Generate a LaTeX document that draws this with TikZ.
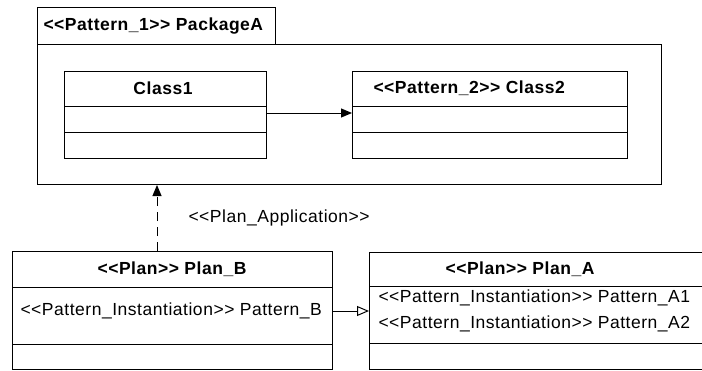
\documentclass[tikz,border=0pt]{standalone}
\usepackage{fontspec}
\setmainfont{Liberation Sans}[LetterSpace=3]
\usetikzlibrary{arrows.meta}

\newcommand{\stype}[1]{<{}<#1>{}>}

\tikzset{
  box/.style={draw, rectangle, anchor=north west, inner sep=0pt},
  title/.style={font=\fontsize{17.5}{20}\selectfont\bfseries, inner sep=0pt},
  attr/.style={font=\fontsize{17.5}{20}\selectfont, anchor=west, inner sep=0pt},
}

\begin{document}
\begin{tikzpicture}[x=1pt, y=-1pt, line width=1pt]
    \clip (0,0) rectangle (702,370);

    \node[box, minimum width=238pt, minimum height=37pt] (tab) at (37,7) {};
    \node[box, minimum width=624pt, minimum height=140pt] (pkg) at (37,44) {};
    \node[title, anchor=west] (tabname) at (43,26) {\stype{Pattern\_1} PackageA};

    \node[box, minimum width=202pt, minimum height=87pt] (c1) at (64,71) {};
    \node[title] (c1name) at (163,88) {Class1};
    \draw (c1.west |- 0,106) -- (c1.east |- 0,106)
          (c1.west |- 0,132) -- (c1.east |- 0,132);

    \node[box, minimum width=275pt, minimum height=87pt] (c2) at (352,71) {};
    \node[title, anchor=west] (c2name) at (373,88) {\stype{Pattern\_2} Class2};
    \draw (c2.west |- 0,106) -- (c2.east |- 0,106)
          (c2.west |- 0,132) -- (c2.east |- 0,132);

    \node[box, minimum width=320pt, minimum height=118pt] (planb) at (12,251) {};
    \node[title] (planbname) at (172,269) {\stype{Plan} Plan\_B};
    \node[attr] (patb) at (20,311) {\stype{Pattern\_Instantiation} Pattern\_B};
    \draw (planb.west |- 0,287) -- (planb.east |- 0,287)
          (planb.west |- 0,344) -- (planb.east |- 0,344);

    \node[box, minimum width=360pt, minimum height=117pt] (plana) at (369,252) {};
    \node[title] (plananame) at (520,269) {\stype{Plan} Plan\_A};
    \node[attr] (pata1) at (378,298) {\stype{Pattern\_Instantiation} Pattern\_A1};
    \node[attr] (pata2) at (378,324) {\stype{Pattern\_Instantiation} Pattern\_A2};
    \draw (plana.west |- 0,286) -- (plana.east |- 0,286)
          (plana.west |- 0,343) -- (plana.east |- 0,343);

    \node[attr] (applab) at (188,218) {\stype{Plan\_Application}};

    \draw[-{Triangle[length=11pt, width=9pt]}] (c1.east |- 0,113) -- (c2.west |- 0,113);
    \draw[dash pattern=on 9pt off 6pt, -{Triangle[length=11pt, width=9pt]}]
          (planb.north -| 157,0) -- (pkg.south -| 157,0);
    \draw[-{Triangle[open, length=12pt, width=10pt]}] (planb.east |- 0,311) -- (plana.west |- 0,311);
\end{tikzpicture}
\end{document}
